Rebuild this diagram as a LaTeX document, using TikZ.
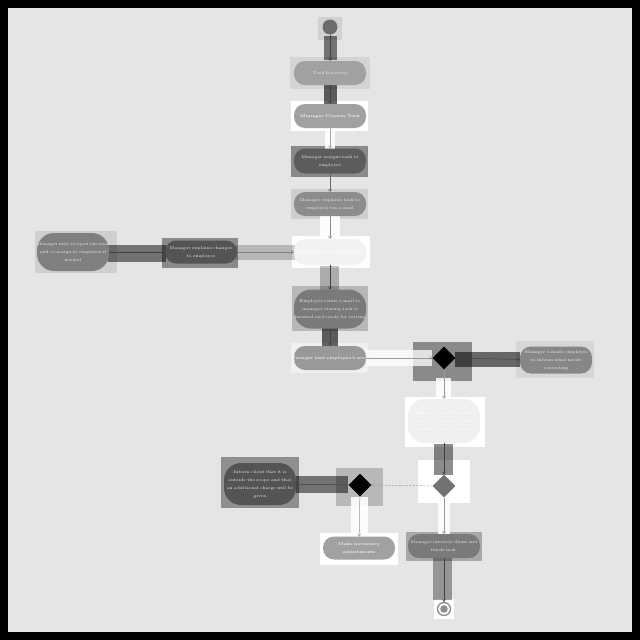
\documentclass[tikz,border=0pt]{standalone}
\usepackage{fontspec}
\usetikzlibrary{shapes.geometric,arrows.meta}
\begin{document}
\begin{tikzpicture}[x=1pt,y=-1pt,
  pill/.style={rectangle, rounded corners=11pt, minimum width=72pt, minimum height=24pt,
    inner xsep=-14pt, inner ysep=1pt, text width=100pt, align=center,
    font=\fontsize{4.1}{8}\selectfont, text=#1,
    execute at begin node={\hyphenpenalty=10000\exhyphenpenalty=10000}},
  pill/.default={white!90!gray},
  bpill/.style={pill=#1, font=\fontsize{4.1}{8}\selectfont\bfseries},
  bpill/.default={white!90!gray},
  tall/.style={rounded corners=17pt},
  dec/.style={diamond, minimum width=23pt, minimum height=23pt, inner sep=0pt},
  flow/.style={draw=#1, line width=0.5pt, -{To[length=2.8pt,width=3.6pt]}},
  flow/.default={black!75},
  bandk/.style={fill=black, opacity=#1},
  bandw/.style={fill=white, opacity=#1},
]
\useasboundingbox (0,0) rectangle (640,640);
\fill[black] (0,0) rectangle (640,640);
\fill[black!10] (8,8) rectangle (632,632);

% node backgrounds
\fill[black!18] (318,17) rectangle (342,40);
\fill[black!17] (290,57) rectangle (370,89);
\fill[white] (291,101) rectangle (368,131);
\fill[black!46] (291,146) rectangle (368,177);
\fill[black!19] (291,189) rectangle (368,219);
\fill[white] (292,236) rectangle (370,268);
\fill[black!28] (292,286) rectangle (368,331);
\fill[black!6] (291,343) rectangle (368,373);
\fill[black!46] (413,342) rectangle (472,381);
\fill[black!16] (516,341) rectangle (594,378);
\fill[white] (405,397) rectangle (485,447);
\fill[white] (418,460) rectangle (470,503);
\fill[black!28] (336,468) rectangle (383,506);
\fill[black!44] (221,457) rectangle (299,508);
\fill[white] (320,533) rectangle (398,565);
\fill[black!34] (406,532) rectangle (482,561);
\fill[white] (434,599) rectangle (454,619);
\fill[black!46] (162,238) rectangle (238,268);
\fill[black!19] (35,231) rectangle (117,273);

% connector bands
\fill[bandk=0.5] (324,36) rectangle (337,60);
\fill[bandk=0.6] (324,85) rectangle (337,105);
\fill[bandw=0.9] (325,128) rectangle (335,150);
\fill[bandw=0.9] (320,216) rectangle (340,238);
\fill[bandk=0.25] (320,266) rectangle (339,290);
\fill[bandk=0.6] (322,328) rectangle (338,349);
\fill[bandw=0.75] (366,350) rectangle (432,366);
\fill[bandk=0.55] (455,352) rectangle (520,367);
\fill[bandw=0.85] (436,378) rectangle (451,400);
\fill[bandk=0.45] (434,444) rectangle (453,475);
\fill[bandk=0.5] (296,476) rectangle (348,493);
\fill[bandw=0.9] (351,497) rectangle (368,535);
\fill[bandw=0.9] (438,500) rectangle (450,535);
\fill[bandk=0.35] (433,558) rectangle (452,600);
\fill[bandk=0.2] (236,245) rectangle (295,260);
\fill[bandk=0.5] (108,245) rectangle (166,262);

% nodes
\node[circle, fill=black!58, minimum size=15pt, inner sep=0pt] (start) at (330,27) {};
\node[pill, fill=black!37] (tr) at (330,73) {Task Received};
\node[bpill, fill=black!37] (mct) at (330,116) {Manager Creates Task};
\node[pill, fill=black!64, minimum height=25pt] (mat) at (330,161) {Manager assigns task to\\ employee};
\node[pill, fill=black!45] (met) at (330,204) {Manager explains task to\\ employee via e-mail};
\node[bpill=white, fill=black!5, minimum height=26pt] (wk) at (330,252) {Employee works on task};
\node[pill, tall, fill=black!52, minimum height=39pt] (ese) at (330,309) {Employee sends e-mail to\\ manager stating task is\\ finished and ready for testing};
\node[bpill, fill=black!40] (mtw) at (330,358) {Manager test employee's work};
\node[dec, fill=black] (d1) at (444,358) {};
\node[pill, fill=black!47, minimum width=71pt, minimum height=27pt] (mee) at (556,360) {Manager e-mails employee\\ to inform what needs\\ correcting};
\node[pill=white, tall, fill=black!6, minimum height=44pt] (w2) at (444,421) {Manager e-mails finished\\ work to client and asks\\ client for final approval};
\node[dec, fill=black!55] (d2) at (444,486) {};
\node[dec, fill=black] (d3) at (360,485) {};
\node[pill, tall, fill=black!67, minimum width=71pt, minimum height=42pt] (inf) at (260,484) {Inform client that it is\\ outside the scope and that\\ an additional charge will be\\ given};
\node[bpill, fill=black!37, minimum width=70pt, minimum height=23pt] (mna) at (359,548) {Make necessary\\ adjustments};
\node[pill, fill=black!52] (mic) at (444,546) {Manager invoices client and\\ finish task.};
\node[circle, draw=black!45, line width=1.3pt, fill=white, minimum size=13pt, inner sep=0pt] (end) at (444,609) {};
\fill[black!45] (end.center) circle (3.8pt);
\node[pill, fill=black!67, minimum width=70pt, minimum height=23pt] (mec) at (201,252) {Manager explains changes\\ to employee};
\node[pill, tall, fill=black!50, minimum width=70pt, minimum height=38pt] (mro) at (73,252) {Manager may re-open the task\\ and re-assign to employee if\\ needed};

% connectors
\draw[flow] (start) -- (tr);
\draw[flow] (tr) -- (mct);
\draw[flow=black!35] (mct) -- (mat);
\draw[flow=black!60] (mat) -- (met);
\draw[flow=black!45] (met) -- (wk);
\draw[flow] (wk) -- (ese);
\draw[flow] (ese) -- (mtw);
\draw[flow=black!40] (mtw) -- (d1);
\draw[flow] (d1) -- (mee);
\draw[flow=black!40] (d1) -- (w2);
\draw[flow] (w2) -- (d2);
\draw[flow=black!40, dashed, dash pattern=on 2pt off 1.5pt] (d2) -- (d3);
\draw[flow] (d3) -- (inf);
\draw[flow=black!40] (d3) -- (mna);
\draw[flow=black!40] (d2) -- (mic);
\draw[flow] (mic) -- (end);
\draw[flow] (mro) -- (mec);
\draw[flow=black!50] (mec) -- (wk);
\end{tikzpicture}
\end{document}
